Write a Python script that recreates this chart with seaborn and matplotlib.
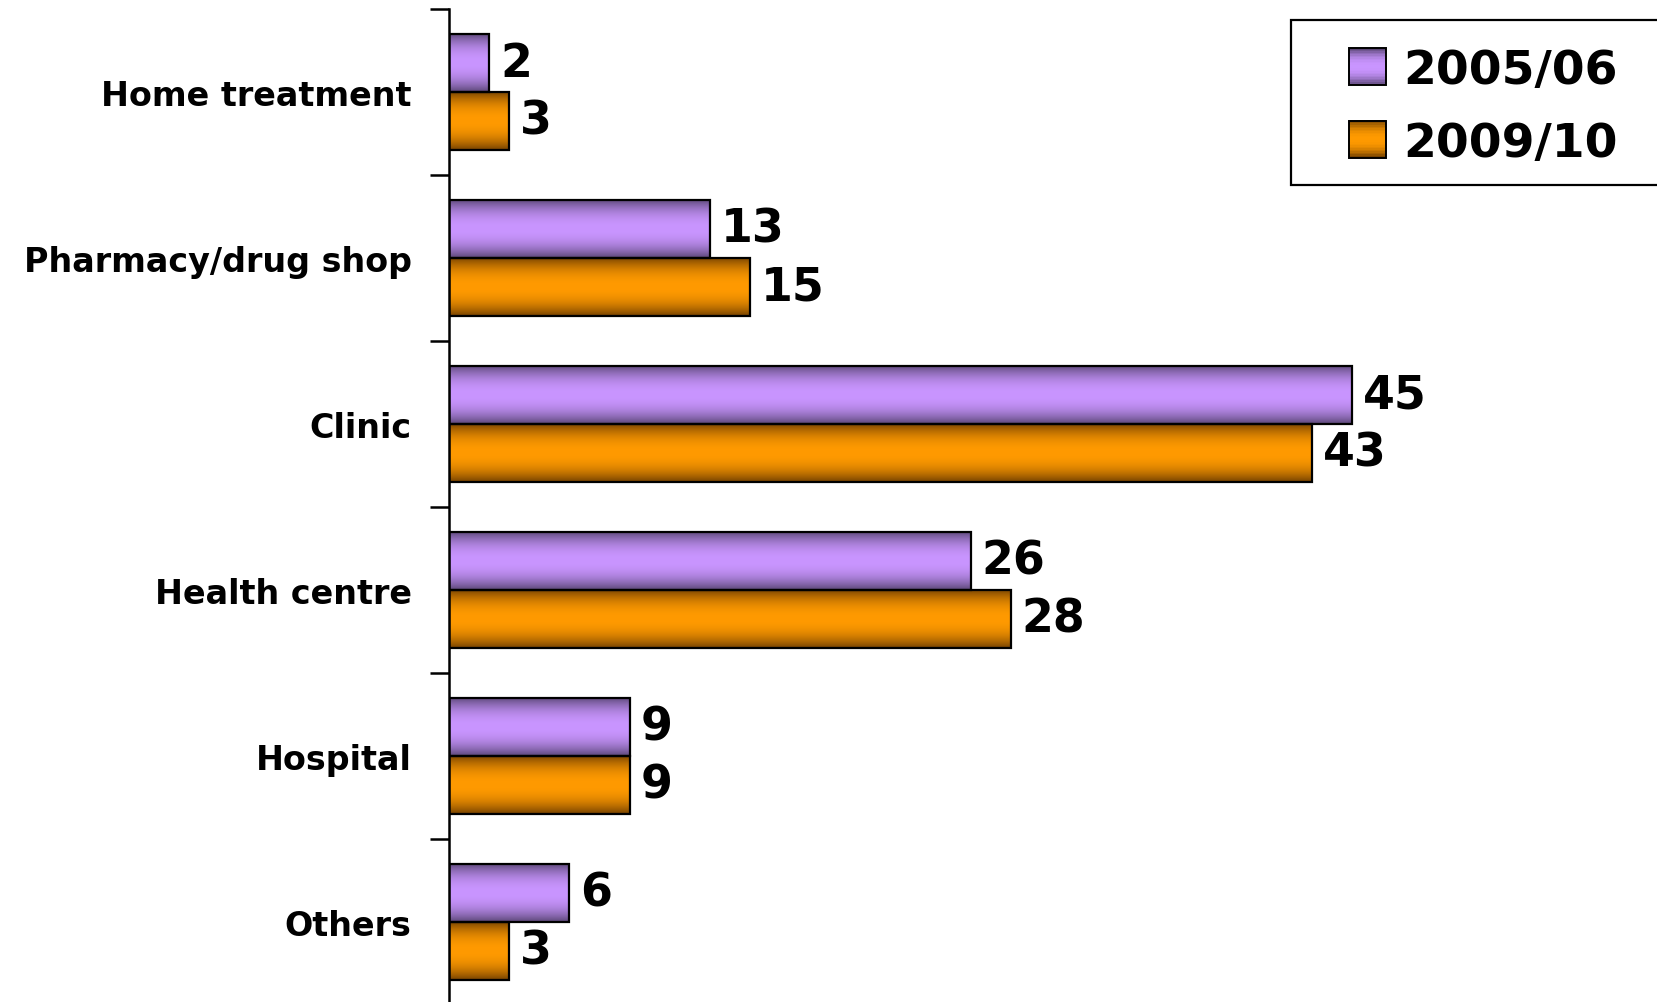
import numpy as np
import pandas as pd
import matplotlib
matplotlib.use("Agg")
import matplotlib.pyplot as plt
from matplotlib.colors import to_rgb
from matplotlib.patches import Rectangle
from matplotlib.legend_handler import HandlerBase
import seaborn as sns

categories = ["Home treatment", "Pharmacy/drug shop", "Clinic",
              "Health centre", "Hospital", "Others"]
series = ["2005/06", "2009/10"]
values_0506 = [2, 13, 45, 26, 9, 6]
values_0910 = [3, 15, 43, 28, 9, 3]

light = {"2005/06": "#C995FF", "2009/10": "#FF9A00"}
dark = {"2005/06": "#5C4878", "2009/10": "#774300"}

df = pd.DataFrame({
    "category": categories * 2,
    "period": [series[0]] * len(categories) + [series[1]] * len(categories),
    "value": values_0506 + values_0910,
})

sns.set_theme(style="white")
plt.rcParams["font.family"] = ["DejaVu Sans"]
plt.rcParams["font.weight"] = "bold"
plt.rcParams["text.color"] = "black"

fig = plt.figure(figsize=(16.57, 10.03), dpi=100)
ax = fig.add_axes([0.271, -0.003, 0.7263, 0.9927])

sns.barplot(data=df, y="category", x="value", hue="period", orient="h",
            order=categories, hue_order=series, palette=light,
            width=0.7, edgecolor="black", linewidth=1.6, legend=False, ax=ax)


def shade(c_light, c_dark, n=64):
    t = np.linspace(0, 1, n)
    f = 1 - np.abs(2 * t - 1) ** 2.2
    lo, hi = np.array(to_rgb(c_dark)), np.array(to_rgb(c_light))
    return lo[None, :] + (hi - lo)[None, :] * f[:, None]


bars = list(ax.patches)
for p in bars:
    fc = p.get_facecolor()[:3]
    key = min(series, key=lambda s: np.sum((np.array(to_rgb(light[s])) - fc) ** 2))
    x0, y0, w, h = p.get_x(), p.get_y(), p.get_width(), p.get_height()
    grad = shade(light[key], dark[key])[:, None, :]
    ax.imshow(grad, extent=[x0, x0 + w, y0 + h, y0], aspect="auto",
              origin="upper", interpolation="bilinear",
              zorder=p.get_zorder() - 0.01)
    p.set_facecolor("none")
    ax.annotate(f"{int(round(w))}", xy=(x0 + w, y0 + h / 2),
                xytext=(8, 0), textcoords="offset points",
                ha="left", va="center", fontsize=33, fontweight="bold",
                color="black")

ax.set_xlim(0, 60)
ax.set_ylim(len(categories) - 0.5, -0.5)
ax.set_xlabel("")
ax.set_ylabel("")
ax.set_xticks([])

for s in ["top", "right", "bottom"]:
    ax.spines[s].set_visible(False)
ax.spines["left"].set_color("black")
ax.spines["left"].set_linewidth(1.8)

ax.set_yticks(range(len(categories)))
ax.set_yticklabels(categories, fontsize=24, fontweight="bold", color="black")
ax.tick_params(axis="y", which="major", length=0, pad=27)
ax.set_yticks(np.arange(-0.5, len(categories), 1.0), minor=True)
ax.tick_params(axis="y", which="minor", length=14, width=1.8,
               color="black", direction="out", left=True)


class GradientSquare(HandlerBase):
    def __init__(self, key):
        super().__init__()
        self.key = key

    def create_artists(self, legend, orig_handle, xdescent, ydescent,
                       width, height, fontsize, trans):
        side = 37 * 72 / fig.dpi
        x0 = width - side - xdescent
        y0 = -ydescent + (height - side) / 2
        cols = shade(light[self.key], dark[self.key], n=24)
        n = len(cols)
        arts = []
        for i, c in enumerate(cols):
            arts.append(Rectangle((x0, y0 + side * (n - 1 - i) / n), side,
                                  side / n + 0.3, facecolor=c, edgecolor="none",
                                  transform=trans))
        arts.append(Rectangle((x0, y0), side, side, facecolor="none",
                              edgecolor="black", linewidth=1.4, transform=trans))
        return arts


# legend frame drawn as a figure rectangle running off the right edge
W, H = 1657, 1003
fig.patches.append(Rectangle((1291 / W, 1 - 186 / H), (1670 - 1291) / W,
                             (186 - 21) / H, transform=fig.transFigure,
                             facecolor="white", edgecolor="black",
                             linewidth=1.6, zorder=5))

handles = [Rectangle((0, 0), 1, 1) for _ in series]
leg = fig.legend(handles, series, loc="upper left",
                 bbox_to_anchor=(1291 / W, 1 - 21 / H),
                 bbox_transform=fig.transFigure, borderaxespad=0,
                 prop={"weight": "bold", "size": 34},
                 frameon=False,
                 handlelength=1.44, handleheight=0.9, handletextpad=0.36,
                 labelspacing=0.56, borderpad=0.58,
                 handler_map={handles[0]: GradientSquare(series[0]),
                              handles[1]: GradientSquare(series[1])})
leg.set_zorder(6)
for t in leg.get_texts():
    t.set_color("black")

fig.savefig("out.png", dpi=100)
